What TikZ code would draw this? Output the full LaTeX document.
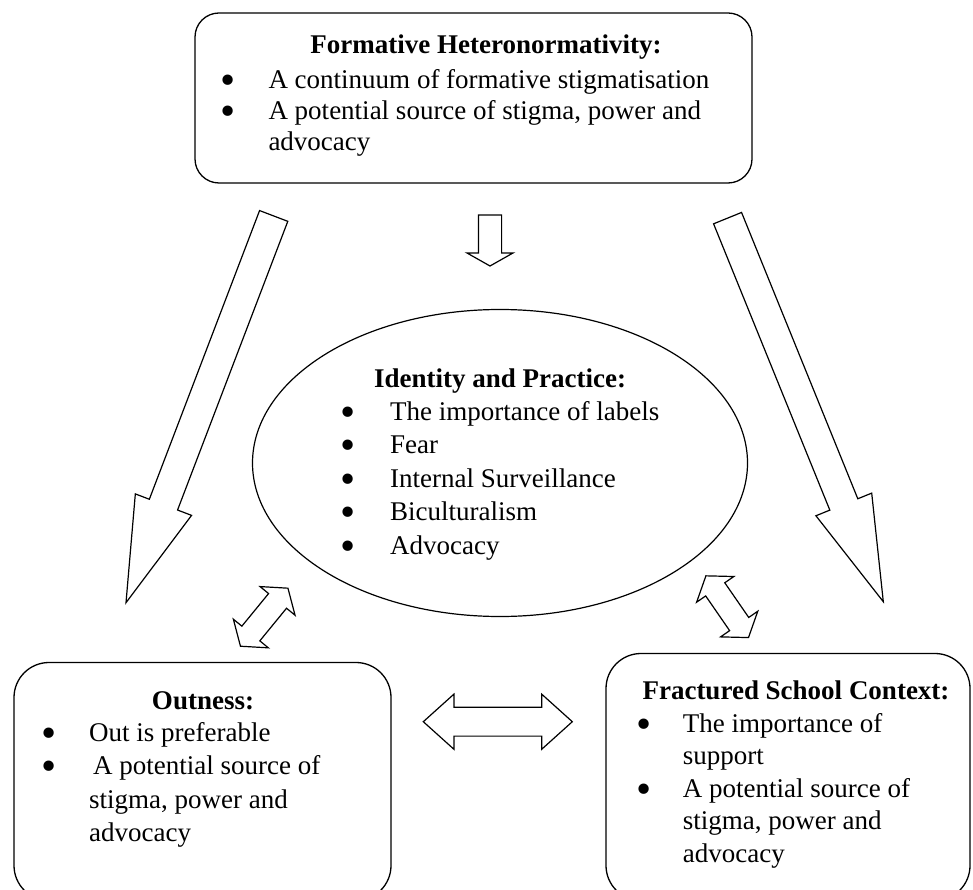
\documentclass[tikz,border=0pt]{standalone}
\usepackage{fontspec}
\usepackage{graphicx}
\setmainfont{Liberation Serif}
\usetikzlibrary{positioning, shapes.geometric, shapes.arrows}

\newcommand{\bodyfont}{\fontsize{27}{33.5}\selectfont}
\newcommand{\topfont}{\fontsize{27}{31}\selectfont}
\newcommand{\dotmark}{\raisebox{-6pt}{\scalebox{1.6}{\textbullet}}}

\begin{document}
\begin{tikzpicture}[x=1pt, y=-1pt,
  font=\bodyfont,
  box/.style={draw, line width=1.3pt, inner sep=0pt},
  ring/.style={ellipse, draw, line width=1.2pt, inner sep=0pt},
  heading/.style={anchor=base, inner sep=0pt, font=\bodyfont\bfseries},
  items/.style={anchor=base west, inner sep=0pt},
  bigarrow/.style={single arrow, draw, line width=1.2pt, inner xsep=0pt, inner ysep=14.5pt, outer sep=0pt,
    single arrow head extend=15pt, single arrow tip angle=32, minimum height=414pt, anchor=tip},
  smallarrow/.style={single arrow, draw, line width=1.2pt, inner xsep=0pt, inner ysep=11pt, outer sep=0pt,
    single arrow head extend=11.5pt, single arrow tip angle=121, minimum height=51pt, anchor=tip},
  linkarrow/.style={double arrow, draw, line width=1.2pt, inner xsep=0pt, inner ysep=11pt, outer sep=0pt,
    double arrow head extend=11pt, double arrow tip angle=108, minimum height=75pt}
]
\clip (0,0) rectangle (973,890);

% Top box
\node[box, rounded corners=24pt, minimum width=557pt, minimum height=170pt] (formative) at (473.5,98) {};
\node[heading] (formtitle) at (486,54) {Formative Heteronormativity:};
\node[items, font=\topfont] (formlist) at (220.7,88.5) {\begin{tabular}[t]{@{}p{47.6pt}@{}l@{}}
\dotmark & A continuum of formative stigmatisation\\
\dotmark & A potential source of stigma, power and\\
 & advocacy
\end{tabular}};

% Centre ellipse
\node[ring, minimum width=495pt, minimum height=307pt] (identity) at (500,463) {};
\node[heading] (idtitle) at (500,387) {Identity and Practice:};
\node[items] (idlist) at (340.4,420) {\begin{tabular}[t]{@{}p{49.6pt}@{}l@{}}
\dotmark & The importance of labels\\
\dotmark & Fear\\
\dotmark & Internal Surveillance\\
\dotmark & Biculturalism\\
\dotmark & Advocacy
\end{tabular}};

% Bottom boxes
\node[box, rounded corners=35pt, minimum width=377pt, minimum height=238pt] (outness) at (202.5,781.5) {};
\node[heading] (outtitle) at (203,709) {Outness:};
\node[items] (outlist) at (41,741) {\begin{tabular}[t]{@{}p{48pt}@{}l@{}}
\dotmark & Out is preferable\\
\dotmark & \hspace{4pt}A potential source of\\
 & stigma, power and\\
 & advocacy
\end{tabular}};

\node[box, rounded corners=35pt, minimum width=364pt, minimum height=247pt] (school) at (788,777) {};
\node[heading] (schooltitle) at (796,699) {Fractured School Context:};
\node[items, font=\fontsize{27}{32.5}\selectfont] (schoollist) at (635.8,732) {\begin{tabular}[t]{@{}p{46.9pt}@{}l@{}}
\dotmark & The importance of\\
 & support\\
\dotmark & A potential source of\\
 & stigma, power and\\
 & advocacy
\end{tabular}};

% Block arrows
\node[bigarrow, rotate=-110.9] (toout) at (126,602.7) {};
\node[bigarrow, rotate=-67.9] (toschool) at (883.3,601.7) {};
\node[smallarrow, rotate=-90] (toidentity) at (490,266) {};
\node[linkarrow, rotate=50.7] (outid) at (264.2,617.2) {};
\node[linkarrow, rotate=-55.4] (schoolid) at (727.2,606.7) {};
\node[linkarrow, inner ysep=13.8pt, double arrow head extend=13.2pt, double arrow tip angle=84,
  minimum height=149pt] (outschool) at (497.8,721.7) {};

\end{tikzpicture}
\end{document}
